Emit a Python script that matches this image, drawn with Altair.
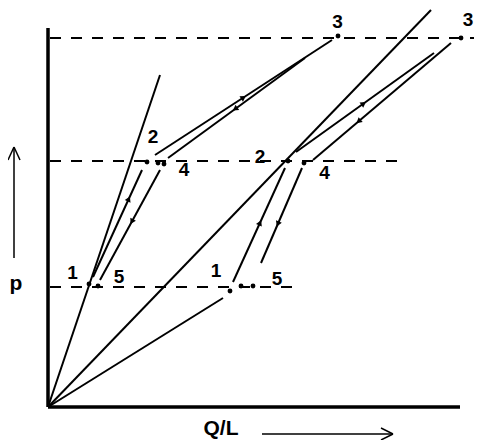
import altair as alt
import pandas as pd
import numpy as np

# ---- data (Q/L, p) in arbitrary units ----
# axes
axis_x0 = [0.0, 0.0]
axis_y0 = [0.0, 0.0]
axis_x1 = [0.0, 10.3]
axis_y1 = [9.475, 0.0]

# solid curves: elastic lines, loading/unloading branches
curve_name = ["L_el", "L_12", "L_45", "L_23", "L_34",
              "R_el", "R_low", "R_12", "R_45", "R_23", "R_34"]
curve_x0 = [0.0, 1.125, 2.8, 2.675, 6.425, 0.0, 0.0, 4.625, 6.35, 6.2, 10.075]
curve_y0 = [0.0, 3.25, 5.925, 6.3, 8.725, 0.0, 0.0, 3.125, 5.975, 6.375, 9.1]
curve_x1 = [2.8, 2.35, 1.3, 7.1, 3.0, 9.575, 4.375, 5.925, 5.325, 9.65, 6.625]
curve_y1 = [8.3, 5.925, 3.175, 9.175, 6.225, 9.925, 2.725, 5.975, 3.6, 8.85, 6.175]

# dashed pressure levels
level_p = [9.225, 6.15, 3.0]
level_start = [0.05, 0.05, 0.05]
level_end = [10.65, 8.75, 6.175]

# state-point dots
dot_x = [1.025, 1.25, 2.475, 2.75, 2.9, 7.25,
         4.55, 4.825, 5.125, 6.0, 6.4, 10.325]
dot_y = [3.075, 3.025, 6.125, 6.1, 6.075, 9.275,
         2.9, 3.025, 3.025, 6.15, 6.1, 9.225]

# state-point labels
lab_text = ["1", "5", "2", "4", "3", "1", "5", "2", "4", "3"]
lab_x = [0.6125, 1.775, 2.625, 3.4, 7.2375, 4.2, 5.725, 5.3, 6.9125, 10.5]
lab_y = [3.34, 3.26, 6.74, 5.925, 9.6375, 3.4, 3.2125, 6.25, 5.8625, 9.6875]

# direction arrows on branches: curve index and fraction along it
arrow_curve = [1, 2, 3, 4, 7, 8, 9, 10]
arrow_t = [0.73, 0.47, 0.5, 0.51, 0.52, 0.59, 0.49, 0.67]

# axis-direction arrows (outside the plot)
dir_x0 = [-0.85, -1.0, -0.7, 5.35, 8.325, 8.325]
dir_y0 = [3.725, 6.175, 6.175, -0.675, -0.525, -0.825]
dir_x1 = [-0.85, -0.85, -0.85, 8.625, 8.625, 8.625]
dir_y1 = [6.475, 6.5, 6.5, -0.675, -0.675, -0.675]

axis_titles = ["p", "Q/L"]
axis_title_x = [-0.8, 4.325]
axis_title_y = [2.925, -0.7]

# ---- tables ----
axes_df = pd.DataFrame({"x": axis_x0, "y": axis_y0, "x2": axis_x1, "y2": axis_y1})
curves_df = pd.DataFrame({"name": curve_name, "x": curve_x0, "y": curve_y0,
                          "x2": curve_x1, "y2": curve_y1})
levels_df = pd.DataFrame({"x": level_start, "x2": level_end, "y": level_p})
dots_df = pd.DataFrame({"x": dot_x, "y": dot_y})
labels_df = pd.DataFrame({"t": lab_text, "x": lab_x, "y": lab_y})
dir_df = pd.DataFrame({"x": dir_x0, "y": dir_y0, "x2": dir_x1, "y2": dir_y1})
titles_df = pd.DataFrame({"t": axis_titles, "x": axis_title_x, "y": axis_title_y})

ax, ay, ang = [], [], []
for ci, t in zip(arrow_curve, arrow_t):
    x0, y0, x1, y1 = curve_x0[ci], curve_y0[ci], curve_x1[ci], curve_y1[ci]
    ax.append(x0 + t * (x1 - x0))
    ay.append(y0 + t * (y1 - y0))
    a = np.degrees(np.arctan2(x1 - x0, y1 - y0)) % 360
    ang.append(float(a))
arrows_df = pd.DataFrame({"x": ax, "y": ay, "a": ang})

XS = alt.Scale(domain=[0, 10.65], nice=False, zero=False)
YS = alt.Scale(domain=[0, 9.975], nice=False, zero=False)
FONT = "Liberation Sans"


def X(f="x"):
    return alt.X(f"{f}:Q", scale=XS, axis=None)


def Y(f="y"):
    return alt.Y(f"{f}:Q", scale=YS, axis=None)


axes = alt.Chart(axes_df).mark_rule(color="black", strokeWidth=3.5).encode(
    x=X(), y=Y(), x2="x2:Q", y2="y2:Q")
curves = alt.Chart(curves_df).mark_rule(color="black", strokeWidth=2).encode(
    x=X(), y=Y(), x2="x2:Q", y2="y2:Q")
levels = alt.Chart(levels_df).mark_rule(color="black", strokeWidth=2, strokeDash=[11, 10]).encode(
    x=X(), x2="x2:Q", y=Y())
dots = alt.Chart(dots_df).mark_point(filled=True, color="black", size=24, opacity=1).encode(
    x=X(), y=Y())
labels = alt.Chart(labels_df).mark_text(font=FONT, fontSize=19, fontWeight="bold",
                                         align="center", baseline="middle",
                                         color="black").encode(
    x=X(), y=Y(), text="t:N")
arrows = alt.Chart(arrows_df).mark_point(shape="triangle-up", filled=True, color="black",
                                          size=40, opacity=1).encode(
    x=X(), y=Y(), angle=alt.Angle("a:Q", scale=None))
dirs = alt.Chart(dir_df).mark_rule(color="black", strokeWidth=1.5).encode(
    x=X(), y=Y(), x2="x2:Q", y2="y2:Q")
titles = alt.Chart(titles_df).mark_text(font=FONT, fontSize=21, fontWeight="bold",
                                         align="center", baseline="alphabetic",
                                         color="black").encode(
    x=X(), y=Y(), text="t:N")

chart = alt.layer(levels, curves, axes, dots, arrows, labels, dirs, titles).properties(
    width=426, height=399,
    autosize=alt.AutoSizeParams(type="none"),
    padding={"left": 40, "top": 0, "right": 0, "bottom": 33},
    background="white",
).configure_view(stroke=None)

chart.save("out.html", embed_options={"renderer": "svg", "actions": False})
